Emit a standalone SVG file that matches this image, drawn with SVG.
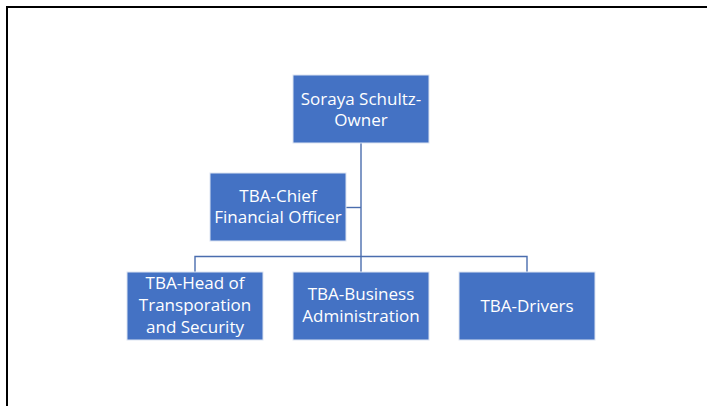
<svg xmlns="http://www.w3.org/2000/svg" width="707" height="406" viewBox="0 0 707 406">
  <style>
    .box { fill: #4472C4; stroke: #DCE4F2; stroke-width: 1; }
    .lbl { fill: #FFFFFF; font-family: "Open Sans", "Liberation Sans", Arial, sans-serif; font-size: 17px; text-anchor: middle; }
    .link { fill: none; stroke: #4A6DAE; stroke-width: 1.4; }
  </style>
  <rect x="0" y="0" width="707" height="406" fill="#FFFFFF"/>
  <!-- page frame -->
  <path d="M7,406 V7 H707" fill="none" stroke="#000000" stroke-width="2"/>

  <g id="connectors">
    <path class="link" d="M361,143 V272"/>
    <path class="link" d="M346,207.5 H361"/>
    <path class="link" d="M195,272 V256.5 H527 V272"/>
  </g>

  <g id="owner">
    <rect class="box" x="293" y="75" width="136" height="68"/>
    <text class="lbl" x="361" y="105">Soraya Schultz-</text>
    <text class="lbl" x="361" y="126">Owner</text>
  </g>

  <g id="cfo">
    <rect class="box" x="210" y="173" width="136" height="68"/>
    <text class="lbl" x="278" y="202">TBA-Chief</text>
    <text class="lbl" x="278" y="223">Financial Officer</text>
  </g>

  <g id="transport">
    <rect class="box" x="127" y="272" width="136" height="68"/>
    <text class="lbl" x="195" y="289">TBA-Head of</text>
    <text class="lbl" x="195" y="311">Transporation</text>
    <text class="lbl" x="195" y="333">and Security</text>
  </g>

  <g id="business">
    <rect class="box" x="293" y="272" width="136" height="68"/>
    <text class="lbl" x="361" y="300">TBA-Business</text>
    <text class="lbl" x="361" y="321.5">Administration</text>
  </g>

  <g id="drivers">
    <rect class="box" x="459" y="272" width="136" height="68"/>
    <text class="lbl" x="527" y="311.5">TBA-Drivers</text>
  </g>
</svg>
